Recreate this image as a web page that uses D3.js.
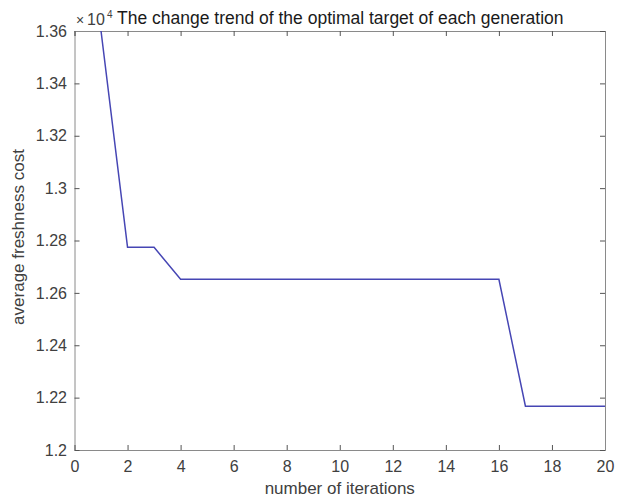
<!DOCTYPE html>
<html>
<head>
<meta charset="utf-8">
<script src="https://cdn.jsdelivr.net/npm/d3@7"></script>
<style>
  body { margin: 0; background: #fff; }
  svg text { font-family: "Liberation Sans", Arial, sans-serif; }
</style>
</head>
<body>
<svg id="chart" width="617" height="502"></svg>
<script>
// Best cost per generation (x 10^4)
const iterations = d3.range(1, 21);
const costs = [1.3600, 1.2774, 1.2774, 1.2652, 1.2652, 1.2652, 1.2652, 1.2652, 1.2652, 1.2652,
               1.2652, 1.2652, 1.2652, 1.2652, 1.2652, 1.2652, 1.2167, 1.2167, 1.2167, 1.2167];
const xTicks = d3.range(0, 21, 2);
const yTicks = [1.2, 1.22, 1.24, 1.26, 1.28, 1.3, 1.32, 1.34, 1.36];

const svg = d3.select("#chart");
const margin = { top: 31, right: 12, bottom: 52, left: 74.5 };
const width = +svg.attr("width") - margin.left - margin.right;
const height = +svg.attr("height") - margin.top - margin.bottom;

const x = d3.scaleLinear().domain([0, 20]).range([0, width]);
const y = d3.scaleLinear().domain([1.2, 1.36]).range([height, 0]);

const g = svg.append("g").attr("transform", `translate(${margin.left},${margin.top})`);

const axisColor = "#8a8a8a";
const textColor = "#404040";

// bottom and left axes with labels, top and right with ticks only (box style)
const fmt = d => String(+d.toFixed(2));
const axBottom = g.append("g").attr("transform", `translate(0,${height})`)
    .call(d3.axisBottom(x).tickValues(xTicks).tickSize(-5).tickPadding(10.5).tickFormat(d3.format("d")));
const axLeft = g.append("g")
    .call(d3.axisLeft(y).tickValues(yTicks).tickSize(-5).tickPadding(7.5).tickFormat(fmt));
const axTop = g.append("g")
    .call(d3.axisTop(x).tickValues(xTicks).tickSize(-5).tickFormat(""));
const axRight = g.append("g").attr("transform", `translate(${width},0)`)
    .call(d3.axisRight(y).tickValues(yTicks).tickSize(-5).tickFormat(""));

[axBottom, axLeft, axTop, axRight].forEach(a => {
    a.select(".domain").attr("stroke", axisColor);
    a.selectAll(".tick line").attr("stroke", "#555");
    a.selectAll(".tick text").attr("fill", textColor).style("font-size", "16px");
});

// line
const line = d3.line().x((d, i) => x(iterations[i])).y(d => y(d));
g.append("path")
    .datum(costs)
    .attr("fill", "none")
    .attr("stroke", "#4646b4")
    .attr("stroke-width", 1.5)
    .attr("d", line);

// exponent marker
svg.append("text")
    .attr("x", 76).attr("y", 25)
    .attr("fill", textColor)
    .style("font-size", "14px")
    .text("\u00d7");
svg.append("text")
    .attr("x", 87).attr("y", 25)
    .attr("fill", textColor)
    .style("font-size", "16px")
    .text("10");
svg.append("text")
    .attr("x", 107).attr("y", 18)
    .attr("fill", textColor)
    .style("font-size", "10px")
    .text("4");

// title
svg.append("text")
    .attr("x", 117).attr("y", 23.5)
    .attr("fill", "#1a1a1a")
    .style("font-size", "17.5px")
    .text("The change trend of the optimal target of each generation");

// axis titles
svg.append("text")
    .attr("x", margin.left + width / 2).attr("y", 494)
    .attr("text-anchor", "middle")
    .attr("fill", textColor)
    .style("font-size", "17px")
    .text("number of iterations");

svg.append("text")
    .attr("transform", `translate(24,237) rotate(-90)`)
    .attr("text-anchor", "middle")
    .attr("fill", textColor)
    .style("font-size", "17px")
    .text("average freshness cost");
</script>
</body>
</html>
